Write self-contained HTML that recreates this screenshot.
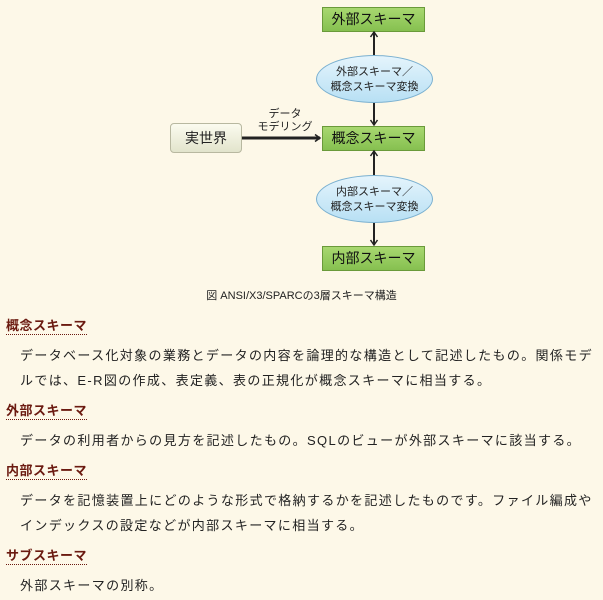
<!DOCTYPE html>
<html><head><meta charset="utf-8"><style>
body{margin:0;width:603px;height:600px;background:#fdf8e8;font-family:"Liberation Sans","Noto Sans CJK JP",sans-serif;position:relative;overflow:hidden;color:#222}
.a{position:absolute}
.box{position:absolute;background:linear-gradient(#a8d870,#86c050);border:1px solid #6a9a3a;font-size:14px;text-align:center;color:#111}
.ell{position:absolute;border-radius:50%;background:linear-gradient(#e4f4fc,#b8e0f4);border:1px solid #7ab0d0;font-size:11px;text-align:center;line-height:15px;box-sizing:border-box}
h3{position:absolute;left:6px;margin:0;font-size:13px;color:#6b1a10;font-weight:bold;border-bottom:1px dotted #6b1a10;line-height:16px;letter-spacing:.5px}
p{position:absolute;left:20px;margin:0;font-size:13px;letter-spacing:1.35px;line-height:25px;white-space:nowrap}
</style></head><body>
<div class="box" style="left:322px;top:7px;width:101px;height:23px;line-height:23px">外部スキーマ</div>
<div class="box" style="left:322px;top:126px;width:101px;height:23px;line-height:23px">概念スキーマ</div>
<div class="box" style="left:322px;top:246px;width:101px;height:23px;line-height:23px">内部スキーマ</div>
<div class="a" style="left:170px;top:123px;width:70px;height:28px;border:1px solid #b8b8a0;border-radius:4px;background:linear-gradient(#fbfbef,#e2e4cc);font-size:14px;line-height:28px;text-align:center">実世界</div>
<div class="ell" style="left:316px;top:55px;width:117px;height:48px;padding-top:9px">外部スキーマ／<br>概念スキーマ変換</div>
<div class="ell" style="left:316px;top:175px;width:117px;height:48px;padding-top:9px">内部スキーマ／<br>概念スキーマ変換</div>
<svg class="a" style="left:0;top:0" width="603" height="300">
<defs><marker id="m" markerUnits="userSpaceOnUse" markerWidth="10" markerHeight="10" refX="7" refY="5" orient="auto"><path d="M2,1.5 L7,5 L2,8.5" fill="none" stroke="#222" stroke-width="1.5"/></marker></defs>
<g stroke="#222" stroke-width="2" fill="none">
<line x1="374" y1="55" x2="374" y2="32" marker-end="url(#m)"/>
<line x1="374" y1="103" x2="374" y2="125" marker-end="url(#m)"/>
<line x1="374" y1="175" x2="374" y2="151" marker-end="url(#m)"/>
<line x1="374" y1="223" x2="374" y2="245" marker-end="url(#m)"/>
<line x1="242" y1="138" x2="320" y2="138" stroke-width="3" marker-end="url(#m)"/>
</g></svg>
<div class="a" style="left:250px;top:108px;width:70px;text-align:center;font-size:11px;line-height:13px">データ<br>モデリング</div>
<div class="a" style="left:0;top:287px;width:603px;text-align:center;font-size:11px">図 ANSI/X3/SPARCの3層スキーマ構造</div>
<h3 style="top:318px">概念スキーマ</h3>
<p style="top:343px">データベース化対象の業務とデータの内容を論理的な構造として記述したもの。関係モデ<br>ルでは、E-R図の作成、表定義、表の正規化が概念スキーマに相当する。</p>
<h3 style="top:403px">外部スキーマ</h3>
<p style="top:428px">データの利用者からの見方を記述したもの。SQLのビューが外部スキーマに該当する。</p>
<h3 style="top:463px">内部スキーマ</h3>
<p style="top:488px">データを記憶装置上にどのような形式で格納するかを記述したものです。ファイル編成や<br>インデックスの設定などが内部スキーマに相当する。</p>
<h3 style="top:548px">サブスキーマ</h3>
<p style="top:573px">外部スキーマの別称。</p>
</body></html>
